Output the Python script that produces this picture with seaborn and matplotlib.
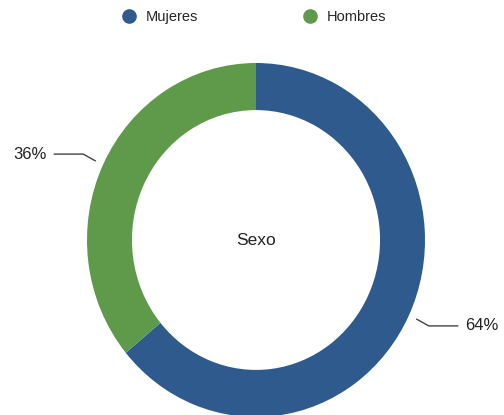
import numpy as np
import seaborn as sns
import matplotlib.pyplot as plt
from matplotlib.lines import Line2D

# datos del gráfico
categorias = ['Mujeres', 'Hombres']
valores = [64, 36]
colores = ['#2E5A8E', '#5E9A4A']
titulo_centro = 'Sexo'

sns.set_theme(style='white')
plt.rcParams['font.family'] = ['Liberation Sans', 'DejaVu Sans']

fig = plt.figure(figsize=(5.04, 4.15), dpi=100)
# centro y radios en píxeles (el anillo está algo estirado en vertical)
cx, cy, rx, ry = 256, 240, 169, 177
ax = fig.add_axes([(cx - rx) / 504, (415 - cy - ry) / 415, 2 * rx / 504, 2 * ry / 415])

wedges, _ = ax.pie(valores, colors=sns.color_palette(colores), startangle=90,
                   counterclock=False, radius=1,
                   wedgeprops=dict(width=0.266, edgecolor='none'))
ax.set_xlim(-1, 1)
ax.set_ylim(-1, 1)
ax.set_aspect('auto')
ax.axis('off')

ax.text(0, 0, titulo_centro, ha='center', va='center', fontsize=12.5, color='#222222')

# etiquetas con líneas guía
for w, v in zip(wedges, valores):
    ang = np.deg2rad((w.theta1 + w.theta2) / 2)
    x0, y0 = 1.05 * np.cos(ang), 1.05 * np.sin(ang)
    x1, y1 = 1.13 * np.cos(ang), 1.14 * np.sin(ang)
    s = np.sign(np.cos(ang))
    x2 = x1 + s * 0.172
    ax.plot([x0, x1, x2], [y0, y1, y1], color='#444444', lw=1, clip_on=False)
    ax.text(x2 + s * 0.042, y1, f'{v}%', ha='left' if s > 0 else 'right',
            va='center', fontsize=12, color='#222222')

handles = [Line2D([], [], marker='o', ls='none', markersize=9.5,
                  markerfacecolor=c, markeredgecolor=c) for c in colores]
fig.legend(handles, categorias, loc='center', bbox_to_anchor=(0.504, 0.959),
           ncol=2, frameon=False, fontsize=10.5, handlelength=1, handletextpad=0.66,
           columnspacing=7.2)

fig.savefig('out.png', dpi=100)
